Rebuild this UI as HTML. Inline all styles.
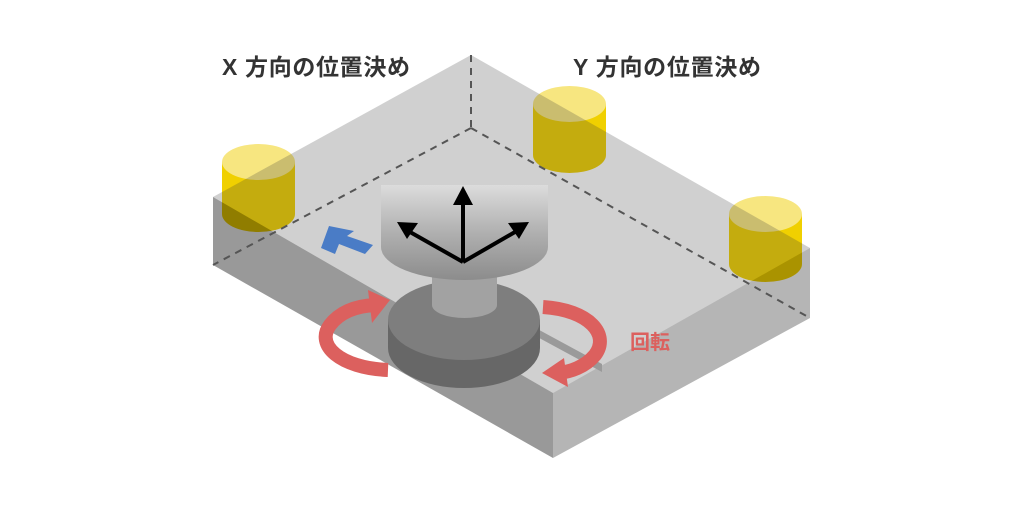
<!DOCTYPE html>
<html><head><meta charset="utf-8"><style>
html,body{margin:0;padding:0;background:#fff;width:1024px;height:512px;overflow:hidden}
svg{display:block}
</style></head><body>
<svg width="1024" height="512" viewBox="0 0 1024 512" xmlns="http://www.w3.org/2000/svg">
<defs>
<linearGradient id="hg" x1="0" y1="0" x2="0" y2="1">
<stop offset="0" stop-color="#dcdcdc"/><stop offset="0.5" stop-color="#b0b0b0"/><stop offset="1" stop-color="#8c8c8c"/>
</linearGradient>
</defs>
<g>
<rect x="222" y="162" width="73" height="52" fill="#f0d000"/><ellipse cx="258.5" cy="214" rx="36.5" ry="18" fill="#f0d000"/><ellipse cx="258.5" cy="162" rx="36.5" ry="18" fill="#f7e680"/>
<rect x="533" y="104" width="73" height="51" fill="#f0d000"/><ellipse cx="569.5" cy="155" rx="36.5" ry="18" fill="#f0d000"/><ellipse cx="569.5" cy="104" rx="36.5" ry="18" fill="#f7e680"/>
<rect x="729" y="214" width="73" height="50" fill="#f0d000"/><ellipse cx="765.5" cy="264" rx="36.5" ry="18" fill="#f0d000"/><ellipse cx="765.5" cy="214" rx="36.5" ry="18" fill="#f7e680"/>
</g>
<polygon points="471,55 810,248 553,393 213,197" fill="rgba(58,58,58,0.24)"/>
<polygon points="213,197 553,393 553,458 213,265" fill="rgba(0,0,0,0.40)"/>
<polygon points="553,393 810,248 810,318 553,458" fill="rgba(0,0,0,0.29)"/>
<g stroke="#555" stroke-width="2" stroke-dasharray="7,6" fill="none">
<line x1="471" y1="55" x2="471" y2="128"/>
<line x1="471" y1="128" x2="213" y2="265"/>
<line x1="471" y1="128" x2="810" y2="318"/>
</g>
<polygon points="530,325 602,364 602,372 530,333" fill="#9a9a9a"/>
<polygon points="321,248 329,226 354,231 347,236 373,245 365,254 339,244 335,254" fill="#4a7cc6"/>
<rect x="388" y="320" width="152" height="28" fill="#676767"/>
<ellipse cx="464" cy="348" rx="76" ry="40" fill="#676767"/>
<ellipse cx="464" cy="320" rx="76" ry="40" fill="#7e7e7e"/>
<rect x="432" y="265" width="65" height="40" fill="#a2a2a2"/>
<ellipse cx="464.5" cy="305" rx="32.5" ry="13" fill="#a2a2a2"/>
<path d="M381,185 L548,185 L548,247 A83.5,33 0 0 1 381,247 Z" fill="url(#hg)"/>
<g stroke="#000" stroke-width="4" fill="none">
<line x1="463" y1="262" x2="463" y2="202"/>
<line x1="463" y1="262" x2="410" y2="232"/>
<line x1="463" y1="262" x2="515" y2="232"/>
</g>
<polygon points="463,186 453,205 473,205" fill="#000"/>
<polygon points="397,222 418,223 407,239" fill="#000"/>
<polygon points="529,222 508,223 519,239" fill="#000"/>
<path d="M388,370 C340,368 315,345 330,325 C340,312 355,306 375,305" stroke="#dc605e" stroke-width="14" fill="none"/>
<polygon points="368,290 390,300 372,323" fill="#dc605e"/>
<path d="M543,307 C590,310 610,335 595,355 C585,367 570,372 558,373" stroke="#dc605e" stroke-width="14" fill="none"/>
<polygon points="564,358 542,373 568,387" fill="#dc605e"/>
<text x="630" y="349" font-family="Liberation Sans, Noto Sans CJK JP, sans-serif" font-size="20" font-weight="bold" fill="#dc605e">回転</text>
<text x="222" y="75" font-family="Liberation Sans, Noto Sans CJK JP, sans-serif" font-size="23" font-weight="bold" fill="#333" textLength="188">X 方向の位置決め</text>
<text x="573" y="75" font-family="Liberation Sans, Noto Sans CJK JP, sans-serif" font-size="23" font-weight="bold" fill="#333" textLength="188">Y 方向の位置決め</text>
</svg>
</body></html>
